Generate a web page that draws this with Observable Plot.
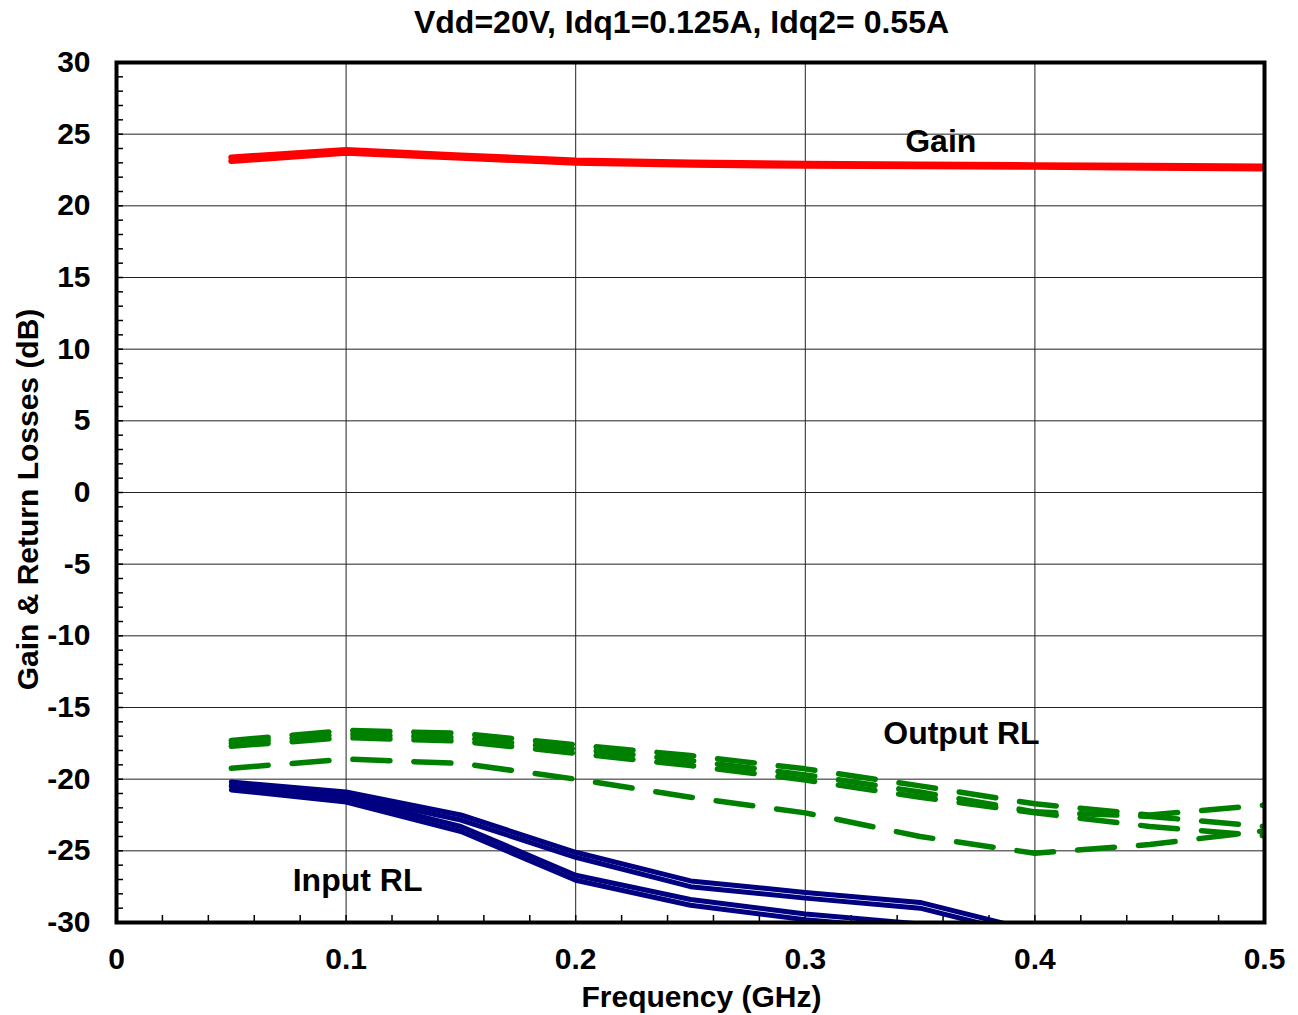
<!DOCTYPE html>
<html>
<head>
<meta charset="utf-8">
<script src="https://cdn.jsdelivr.net/npm/d3@7"></script>
<script src="https://cdn.jsdelivr.net/npm/@observablehq/plot@0.6"></script>
<style>
  body { margin: 0; background: white; font-family: "Liberation Sans", Arial, sans-serif; }
  #title { box-sizing: border-box; width: 1298px; height: 45px; line-height: 45px; padding-left: 65px;
           text-align: center; font-size: 32px; font-weight: bold; color: #000; }
</style>
</head>
<body>
<div id="title">Vdd=20V, Idq1=0.125A, Idq2= 0.55A</div>
<div id="chart"></div>
<script>
const freq = [0.05, 0.1, 0.15, 0.2, 0.25, 0.3, 0.35, 0.4, 0.45, 0.5];

const gain1 = [23.38, 23.9, 23.52, 23.17, 23.02, 22.94, 22.89, 22.84, 22.79, 22.74];
const gain2 = [23.12, 23.7, 23.36, 23.0, 22.86, 22.8, 22.76, 22.72, 22.66, 22.6];

const outRL1 = [-17.3, -16.6, -16.8, -17.6, -18.35, -19.28, -20.47, -21.72, -22.5, -21.8];
const outRL2 = [-17.5, -16.85, -17.1, -17.9, -18.7, -19.7, -20.9, -22.28, -22.6, -23.3];
const outRL3 = [-17.7, -17.1, -17.35, -18.2, -19.05, -20.06, -21.26, -22.35, -23.3, -23.95];
const outRL4 = [-19.24, -18.6, -18.9, -20.0, -21.26, -22.35, -24.0, -25.17, -24.56, -23.6];

const inRL1 = [-20.2, -20.9, -22.5, -25.1, -27.1, -27.9, -28.6, -30.6];
const inRL2 = [-20.45, -21.15, -22.85, -25.45, -27.5, -28.3, -29.0, -31.0];
const inRL3 = [-20.5, -21.3, -23.3, -26.7, -28.4, -29.4, -30.1, -31.5];
const inRL4 = [-20.75, -21.6, -23.65, -27.05, -28.8, -29.8, -30.5, -32.0];

const xTicks = [0, 0.1, 0.2, 0.3, 0.4, 0.5];
const yTicks = [-30, -25, -20, -15, -10, -5, 0, 5, 10, 15, 20, 25, 30];

const noteText = ["Gain", "Output RL", "Input RL"];
const noteFreq = [0.359, 0.368, 0.105];
const noteDb = [24.5, -16.8, -27.1];

const toRows = (vals, series) => vals.map((v, i) => ({f: freq[i], db: v, series}));
const gainRows = [...toRows(gain1, "g1"), ...toRows(gain2, "g2")];
const outRows = [...toRows(outRL1, "o1"), ...toRows(outRL2, "o2"), ...toRows(outRL3, "o3"), ...toRows(outRL4, "o4")];
const inRows = [...toRows(inRL1, "i1"), ...toRows(inRL2, "i2"), ...toRows(inRL3, "i3"), ...toRows(inRL4, "i4")];
const notes = noteText.map((t, i) => ({t, f: noteFreq[i], db: noteDb[i]}));

const minorX = d3.range(0, 26).map(i => i * 0.02);
const minorY = d3.range(-30, 31);

const chart = Plot.plot({
  width: 1298,
  height: 970,
  marginTop: 17,
  marginBottom: 93,
  marginLeft: 116,
  marginRight: 34,
  style: {fontFamily: "'Liberation Sans', Arial, sans-serif", fontWeight: "bold", fontSize: "30px", background: "white", color: "#000"},
  x: {domain: [0, 0.5]},
  y: {domain: [-30, 30]},
  marks: [
    Plot.gridX(xTicks, {stroke: "#222", strokeOpacity: 1, strokeWidth: 1}),
    Plot.gridY(yTicks, {stroke: "#222", strokeOpacity: 1, strokeWidth: 1}),
    Plot.axisX(minorX, {tickSize: -7, tickFormat: () => "", strokeWidth: 1.5, label: null}),
    Plot.axisY(minorY, {tickSize: -7, tickFormat: () => "", strokeWidth: 1.5, label: null}),
    Plot.axisX(xTicks, {tickSize: 0, tickPadding: 25, fontSize: 30, fontWeight: "bold", tickFormat: d => String(d), label: null}),
    Plot.axisY(yTicks, {tickSize: 0, tickPadding: 26, fontSize: 30, fontWeight: "bold", tickFormat: d => String(d), label: null}),
    Plot.line(outRows, {x: "f", y: "db", z: "series", stroke: "#008000", strokeWidth: 5.5, strokeDasharray: "37,24", strokeLinecap: "round", clip: true}),
    Plot.line(inRows, {x: "f", y: "db", z: "series", stroke: "#000080", strokeWidth: 5, clip: true}),
    Plot.line(gainRows, {x: "f", y: "db", z: "series", stroke: "#ff0000", strokeWidth: 6, clip: true}),
    Plot.text(notes, {x: "f", y: "db", text: "t", fontSize: 32, fontWeight: "bold", fill: "#000"}),
    Plot.text(["Gain & Return Losses (dB)"], {frameAnchor: "left", textAnchor: "middle", lineAnchor: "middle", rotate: -90, dx: -88, dy: 7, fontSize: 30, fontWeight: "bold", fill: "#000"}),
    Plot.text(["Frequency (GHz)"], {frameAnchor: "bottom", textAnchor: "middle", lineAnchor: "middle", dy: 75, dx: 11, fontSize: 30, fontWeight: "bold", fill: "#000"}),
    Plot.frame({stroke: "#000", strokeWidth: 4})
  ]
});
document.getElementById("chart").appendChild(chart);
</script>
</body>
</html>
